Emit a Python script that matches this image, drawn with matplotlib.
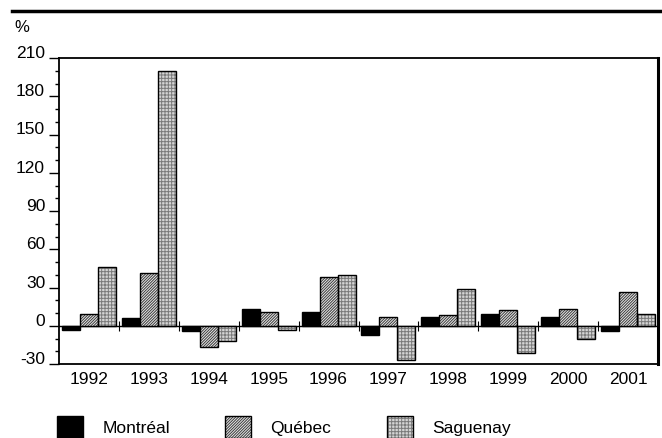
import numpy as np
import matplotlib
matplotlib.use("Agg")
import matplotlib.pyplot as plt
from matplotlib.lines import Line2D
from matplotlib.ticker import MultipleLocator

years = ["1992", "1993", "1994", "1995", "1996", "1997", "1998", "1999", "2000", "2001"]
montreal = [-3, 6, -4, 13, 11, -7, 7, 9, 6.5, -4]
quebec = [9, 41.5, -17, 11, 38, 7, 8.5, 12.5, 13, 26.5]
saguenay = [46, 200, -12, -3, 40, -27, 29, -21, -10, 9]
series_names = ["Montréal", "Québec", "Saguenay"]

plt.rcParams["font.family"] = ["Liberation Sans", "DejaVu Sans"]
plt.rcParams["axes.unicode_minus"] = False
plt.rcParams["hatch.linewidth"] = 0.7

fig = plt.figure(figsize=(6.62, 4.38), dpi=100)
ax = fig.add_axes([59 / 662, 1 - 364 / 438, 599 / 662, 306 / 438])

x = np.arange(len(years))
w = 0.3
styles = [
    dict(color="black", hatch=None),
    dict(color="#e8e8e8", hatch="////////////", hcolor="#3a3a3a"),
    dict(color="#d4d4d4", hatch="+++++", hcolor="#7a7a7a"),
]
handles = []
for k, (vals, st) in enumerate(zip([montreal, quebec, saguenay], styles)):
    pos = x + (k - 1) * w
    if st["hatch"]:
        fill = ax.bar(pos, vals, w, color=st["color"], hatch=st["hatch"],
                      edgecolor=st["hcolor"], linewidth=0, zorder=3)
        line = ax.bar(pos, vals, w, fill=False, edgecolor="black",
                      linewidth=1, zorder=4)
        handles.append((fill[0], line[0]))
    else:
        fill = ax.bar(pos, vals, w, color="black", edgecolor="black",
                      linewidth=1, zorder=3)
        handles.append(fill[0])

ax.axhline(0, color="black", linewidth=1, zorder=2)
ax.set_xlim(-0.5, len(years) - 0.5)
ax.set_ylim(-30, 210)
ax.set_xticks(x)
ax.set_xticklabels(years, fontsize=12.5)
ax.tick_params(axis="x", length=0, pad=6)
ax.yaxis.set_major_locator(MultipleLocator(30))
ax.yaxis.set_minor_locator(MultipleLocator(10))
ax.tick_params(axis="y", which="major", length=7, width=1, labelsize=12.5, pad=3)
ax.tick_params(axis="y", which="minor", length=3, width=1)
for lab in ax.get_yticklabels():
    lab.set_verticalalignment("baseline")
for side in ["left", "top", "bottom"]:
    ax.spines[side].set_linewidth(1.3)
ax.spines["right"].set_linewidth(2.2)

# group separators on the zero line
sec = ax.secondary_xaxis(30 / 240)
sec.set_xticks(x[:-1] + 0.5)
sec.set_xticklabels([])
sec.tick_params(direction="inout", length=7, width=0.8)
sec.spines["bottom"].set_visible(False)

fig.add_artist(Line2D([12 / 662, 1], [1 - 11 / 438, 1 - 11 / 438],
                      color="black", linewidth=2.5))
fig.text(14 / 662, 1 - 28 / 438, "%", fontsize=12, va="center", ha="left")

fig.legend(handles, series_names, loc="lower left",
           bbox_to_anchor=(57 / 662, 0), ncol=3, frameon=False,
           fontsize=12.5, handlelength=1.5, handleheight=1.6,
           handletextpad=1.1, columnspacing=3.2, borderpad=0,
           borderaxespad=0)

fig.savefig("out.png", dpi=100)
